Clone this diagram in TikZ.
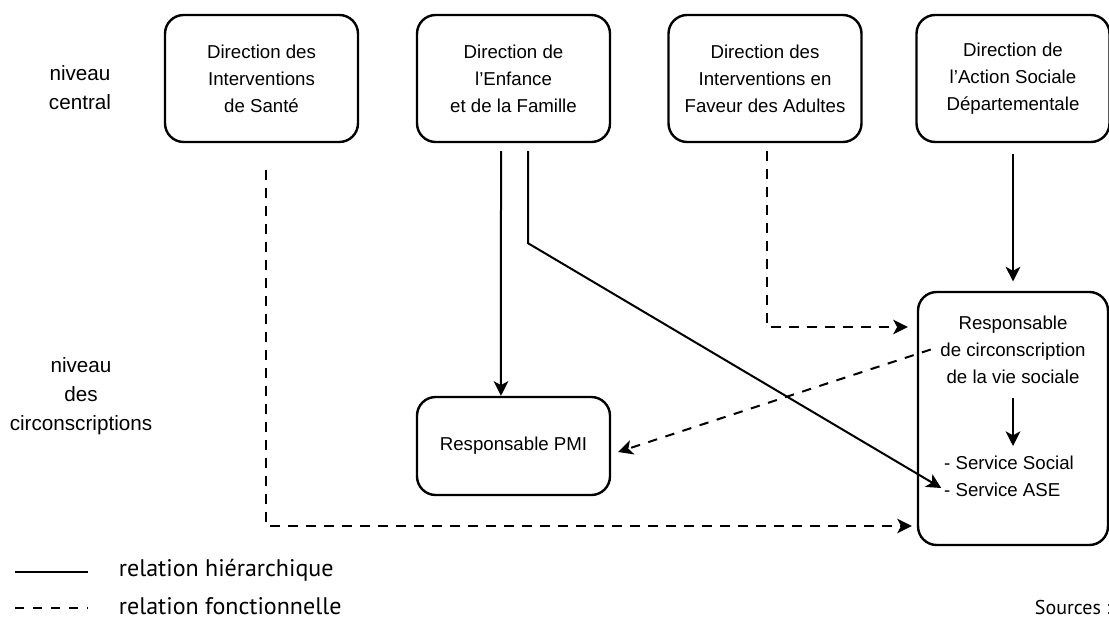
\documentclass[tikz,border=0pt]{standalone}
\usepackage{fontspec}
\setmainfont{Liberation Sans}
\newfontfamily\legendfont{PT Sans}
\usetikzlibrary{arrows.meta}

\begin{document}
\begin{tikzpicture}[x=0.75pt, y=-0.75pt, every node/.style={inner sep=2pt, font=\fontsize{14}{20.3}\selectfont}, box/.style={draw, line width=1.8pt, rounded corners=14pt, minimum width=144.75pt, minimum height=95.25pt, align=center}, level/.style={align=center, font=\fontsize{15.5}{21.8}\selectfont}, hier/.style={line width=1.5pt, -{Stealth[length=11pt, width=11pt, inset=3pt]}}, fonct/.style={hier, dash pattern=on 7pt off 6.5pt}, legend/.style={anchor=west, font=\legendfont\fontsize{18}{20}\selectfont}]
      \useasboundingbox (0,0) rectangle (1109,620);
      % niveaux
      \node[level] (central) at (80,88) {niveau\\central};
      \node[level] (circniv) at (81,396) {niveau\\des\\circonscriptions};
      % directions
      \node[box] (sante) at (261.5,78.5) {Direction des\\Interventions\\de Santé};
      \node[box] (enfance) at (513.5,78.5) {Direction de\\l'Enfance\\et de la Famille};
      \node[box] (adultes) at (765,78.5) {Direction des\\Interventions en\\Faveur des Adultes};
      \node[box] (action) at (1013,78.5) {Direction de\\l'Action Sociale\\Départementale};
      % circonscriptions
      \node[box, minimum height=73.5pt] (pmi) at (513.5,446) {Responsable PMI};
      \node[box, minimum width=142.5pt, minimum height=189.75pt] (circ) at (1013,418.5) {};
      \node[align=center] (resp) at (1013,349.5) {Responsable\\de circonscription\\de la vie sociale};
      \node[align=left] (serv) at (1009,476) {- Service Social\\- Service ASE};
      % relations
      \draw[hier] ([shift={(-12.5,8)}]enfance.south) -- ([xshift=-9.4pt]pmi.north);
      \draw[hier] ([shift={(14.5,8)}]enfance.south) -- ++(0,92) -- ([yshift=-9pt]serv.west);
      \draw[hier] ([yshift=-8pt]action.south) -- ([yshift=7pt]circ.north);
      \draw[hier] ([yshift=-9pt]resp.south) -- ([yshift=5pt]resp.south |- serv.north);
      \draw[fonct] ([shift={(2,8)}]adultes.south) |- ([shift={(-9,-91.5)}]circ.west);
      \draw[fonct] ([xshift=-5pt]resp.west) -- ([shift={(7,6)}]pmi.east);
      \draw[fonct] ([shift={(4.5,27)}]sante.south) |- ([shift={(-5,107.5)}]circ.west);
      % legende
      \coordinate (h1) at (15,572);
      \coordinate (h2) at (88,572);
      \draw[line width=1.5pt] (h1) -- (h2);
      \node[legend] (hiertxt) at (116,570) {relation hiérarchique};
      \coordinate (f1) at (15,608);
      \coordinate (f2) at (88,608);
      \draw[line width=1.5pt, dash pattern=on 7pt off 6.5pt] (f1) -- (f2);
      \node[legend] (fonctxt) at (116,606) {relation fonctionnelle};
      \node[legend, font=\legendfont\fontsize{15}{18}\selectfont] (sources) at (1032,607) {Sources :};
    \end{tikzpicture}
\end{document}
